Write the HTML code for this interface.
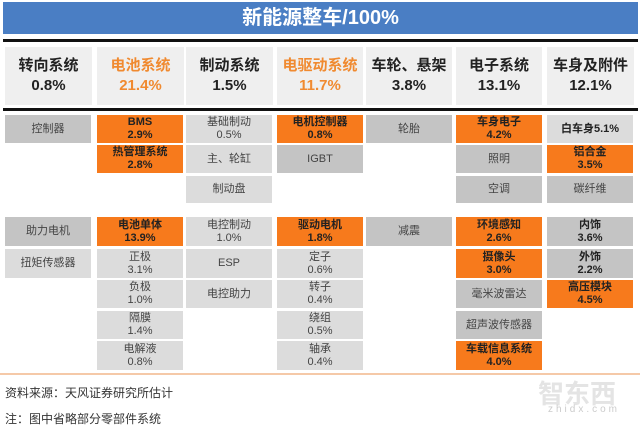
<!DOCTYPE html>
<html><head><meta charset="utf-8"><style>
body{margin:0;width:640px;height:430px;background:#fff;position:relative;overflow:hidden;font-family:"Liberation Sans","Noto Sans CJK SC",sans-serif}
div{position:absolute;box-sizing:border-box}
.t{left:3px;top:2px;width:635px;height:32px;background:#4a7ec4;color:#fff;font-size:20px;font-weight:bold;text-align:center;line-height:32px}
.bl{left:3px;width:635px;height:3px;background:#111}
.h{top:47px;height:58px;background:#efefef;text-align:center;font-size:15px;font-weight:bold;line-height:20px;padding-top:9px;color:#222}
.h.o{color:#f08a30}
.c{width:86px;display:flex;align-items:center;justify-content:center;text-align:center;font-size:11px;line-height:13px;color:#444;background:#dcdcdc}
.g{background:#c4c4c4}
.o{background:#f77a1c;color:#222;font-weight:bold}
.h.o{background:#efefef}
.b{font-weight:bold;color:#222}
.f{font-size:12px;color:#333;left:5px}
</style></head><body>
<div class="t">新能源整车/100%</div>
<div class="bl" style="top:39px"></div>
<div class="bl" style="top:108px"></div>
<div class="h" style="left:5px;width:87px">转向系统<br>0.8%</div>
<div class="h o" style="left:97px;width:87px">电池系统<br>21.4%</div>
<div class="h" style="left:186px;width:87px">制动系统<br>1.5%</div>
<div class="h o" style="left:277px;width:86px">电驱动系统<br>11.7%</div>
<div class="h" style="left:366px;width:86px">车轮、悬架<br>3.8%</div>
<div class="h" style="left:456px;width:86px">电子系统<br>13.1%</div>
<div class="h" style="left:547px;width:87px">车身及附件<br>12.1%</div>

<div class="c g" style="left:5px;top:115px;height:28px">控制器</div>
<div class="c o" style="left:97px;top:115px;height:28px">BMS<br>2.9%</div>
<div class="c o" style="left:97px;top:145px;height:28px">热管理系统<br>2.8%</div>
<div class="c" style="left:186px;top:115px;height:28px">基础制动<br>0.5%</div>
<div class="c" style="left:186px;top:145px;height:28px">主、轮缸</div>
<div class="c" style="left:186px;top:176px;height:27px">制动盘</div>
<div class="c o" style="left:277px;top:115px;height:28px">电机控制器<br>0.8%</div>
<div class="c g" style="left:277px;top:145px;height:28px">IGBT</div>
<div class="c g" style="left:366px;top:115px;height:28px">轮胎</div>
<div class="c o" style="left:456px;top:115px;height:28px">车身电子<br>4.2%</div>
<div class="c g" style="left:456px;top:145px;height:28px">照明</div>
<div class="c g" style="left:456px;top:176px;height:27px">空调</div>
<div class="c b" style="left:547px;top:115px;height:28px">白车身5.1%</div>
<div class="c o" style="left:547px;top:145px;height:28px">铝合金<br>3.5%</div>
<div class="c g" style="left:547px;top:176px;height:27px">碳纤维</div>

<div class="c g" style="left:5px;top:217px;height:29px">助力电机</div>
<div class="c" style="left:5px;top:249px;height:29px">扭矩传感器</div>
<div class="c o" style="left:97px;top:217px;height:29px">电池单体<br>13.9%</div>
<div class="c" style="left:97px;top:249px;height:29px">正极<br>3.1%</div>
<div class="c" style="left:97px;top:280px;height:28px">负极<br>1.0%</div>
<div class="c" style="left:97px;top:311px;height:28px">隔膜<br>1.4%</div>
<div class="c" style="left:97px;top:341px;height:29px">电解液<br>0.8%</div>
<div class="c" style="left:186px;top:217px;height:29px">电控制动<br>1.0%</div>
<div class="c" style="left:186px;top:249px;height:29px">ESP</div>
<div class="c" style="left:186px;top:280px;height:28px">电控助力</div>
<div class="c o" style="left:277px;top:217px;height:29px">驱动电机<br>1.8%</div>
<div class="c" style="left:277px;top:249px;height:29px">定子<br>0.6%</div>
<div class="c" style="left:277px;top:280px;height:28px">转子<br>0.4%</div>
<div class="c" style="left:277px;top:311px;height:28px">绕组<br>0.5%</div>
<div class="c" style="left:277px;top:341px;height:29px">轴承<br>0.4%</div>
<div class="c g" style="left:366px;top:217px;height:29px">减震</div>
<div class="c o" style="left:456px;top:217px;height:29px">环境感知<br>2.6%</div>
<div class="c o" style="left:456px;top:249px;height:29px">摄像头<br>3.0%</div>
<div class="c g" style="left:456px;top:280px;height:28px">毫米波雷达</div>
<div class="c g" style="left:456px;top:311px;height:28px">超声波传感器</div>
<div class="c o" style="left:456px;top:341px;height:29px">车载信息系统<br>4.0%</div>
<div class="c g b" style="left:547px;top:217px;height:29px">内饰<br>3.6%</div>
<div class="c g b" style="left:547px;top:249px;height:29px">外饰<br>2.2%</div>
<div class="c o" style="left:547px;top:280px;height:28px">高压模块<br>4.5%</div>

<div style="left:0;top:373px;width:640px;height:2px;background:#f5c9a8"></div>
<div class="f" style="top:384px">资料来源：天风证券研究所估计</div>
<div class="f" style="top:410px">注：图中省略部分零部件系统</div>
<div style="left:538px;top:374px;font-size:26px;color:#e4e4e4;font-weight:bold">智东西</div>
<div style="left:548px;top:404px;font-size:10px;color:#ccc;letter-spacing:3px">zhidx.com</div>
</body></html>
